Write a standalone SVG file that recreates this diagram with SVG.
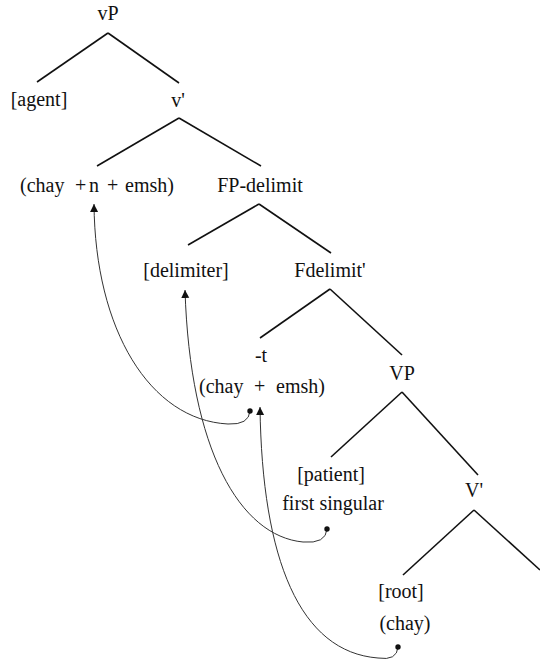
<svg xmlns="http://www.w3.org/2000/svg" width="540" height="665" viewBox="0 0 540 665">
<style>
text { font-family: "Liberation Serif", "DejaVu Serif", serif; font-size: 20px; fill: #111; }
.m { text-anchor: middle; }
.edge { stroke: #111; stroke-width: 1.6; fill: none; }
.move { stroke: #333; stroke-width: 1; fill: none; marker-start: url(#dot); marker-end: url(#head); }
</style>
<defs>
<marker id="head" markerUnits="userSpaceOnUse" markerWidth="10" markerHeight="10" refX="8" refY="4" orient="auto">
<path d="M0,0 L8,4 L0,8 z" fill="#111"/>
</marker>
<marker id="dot" markerUnits="userSpaceOnUse" markerWidth="8" markerHeight="8" refX="4" refY="4">
<circle cx="4" cy="4" r="2.7" fill="#111"/>
</marker>
</defs>
<rect width="540" height="665" fill="#fff"/>
<g id="connectors">
<line class="edge" x1="108" y1="33" x2="37" y2="82"/>
<line class="edge" x1="108" y1="33" x2="179" y2="83"/>
<line class="edge" x1="179" y1="118" x2="97" y2="166"/>
<line class="edge" x1="179" y1="118" x2="261" y2="166"/>
<line class="edge" x1="259" y1="204" x2="188" y2="245"/>
<line class="edge" x1="259" y1="204" x2="331" y2="253"/>
<line class="edge" x1="330" y1="289" x2="260" y2="338"/>
<line class="edge" x1="330" y1="289" x2="402" y2="355"/>
<line class="edge" x1="402" y1="392" x2="331" y2="457"/>
<line class="edge" x1="402" y1="392" x2="478" y2="475"/>
<line class="edge" x1="474" y1="510" x2="403" y2="575"/>
<line class="edge" x1="474" y1="510" x2="540" y2="570"/>
<path class="move" d="M250,411 Q249,425 228,424 C150,420 95,330 94,204"/>
<path class="move" d="M327,529 Q326,544 303,542 C240,536 190,450 185,290"/>
<path class="move" d="M398,647 Q397,661 378,658 C300,652 262,560 260,407"/>
</g>
<g font-family="Liberation Serif, DejaVu Serif, serif">
<g id="n-vP"><text class="m" x="108" y="20">vP</text></g>
<g id="n-agent"><text class="m" x="39" y="106">[agent]</text></g>
<g id="n-vbar"><text class="m" x="178" y="107">v'</text></g>
<g id="n-chay-n-emsh"><text y="192"><tspan x="20">(chay</tspan><tspan x="75">+</tspan><tspan x="89">n</tspan><tspan x="107">+</tspan><tspan x="125">emsh)</tspan></text></g>
<g id="n-FP-delimit"><text class="m" x="260" y="192">FP-delimit</text></g>
<g id="n-delimiter"><text class="m" x="186" y="277">[delimiter]</text></g>
<g id="n-Fdelimit-bar"><text class="m" x="330" y="277">Fdelimit'</text></g>
<g id="n-t"><text class="m" x="261" y="362">-t</text><text y="393"><tspan x="199">(chay</tspan><tspan x="254">+</tspan><tspan x="276">emsh)</tspan></text></g>
<g id="n-VP"><text class="m" x="402" y="380">VP</text></g>
<g id="n-patient"><text class="m" x="331" y="481">[patient]</text><text class="m" x="333" y="510">first singular</text></g>
<g id="n-Vbar"><text class="m" x="474" y="497">V'</text></g>
<g id="n-root"><text class="m" x="401" y="598">[root]</text><text class="m" x="405" y="630">(chay)</text></g>
</g>
</svg>
